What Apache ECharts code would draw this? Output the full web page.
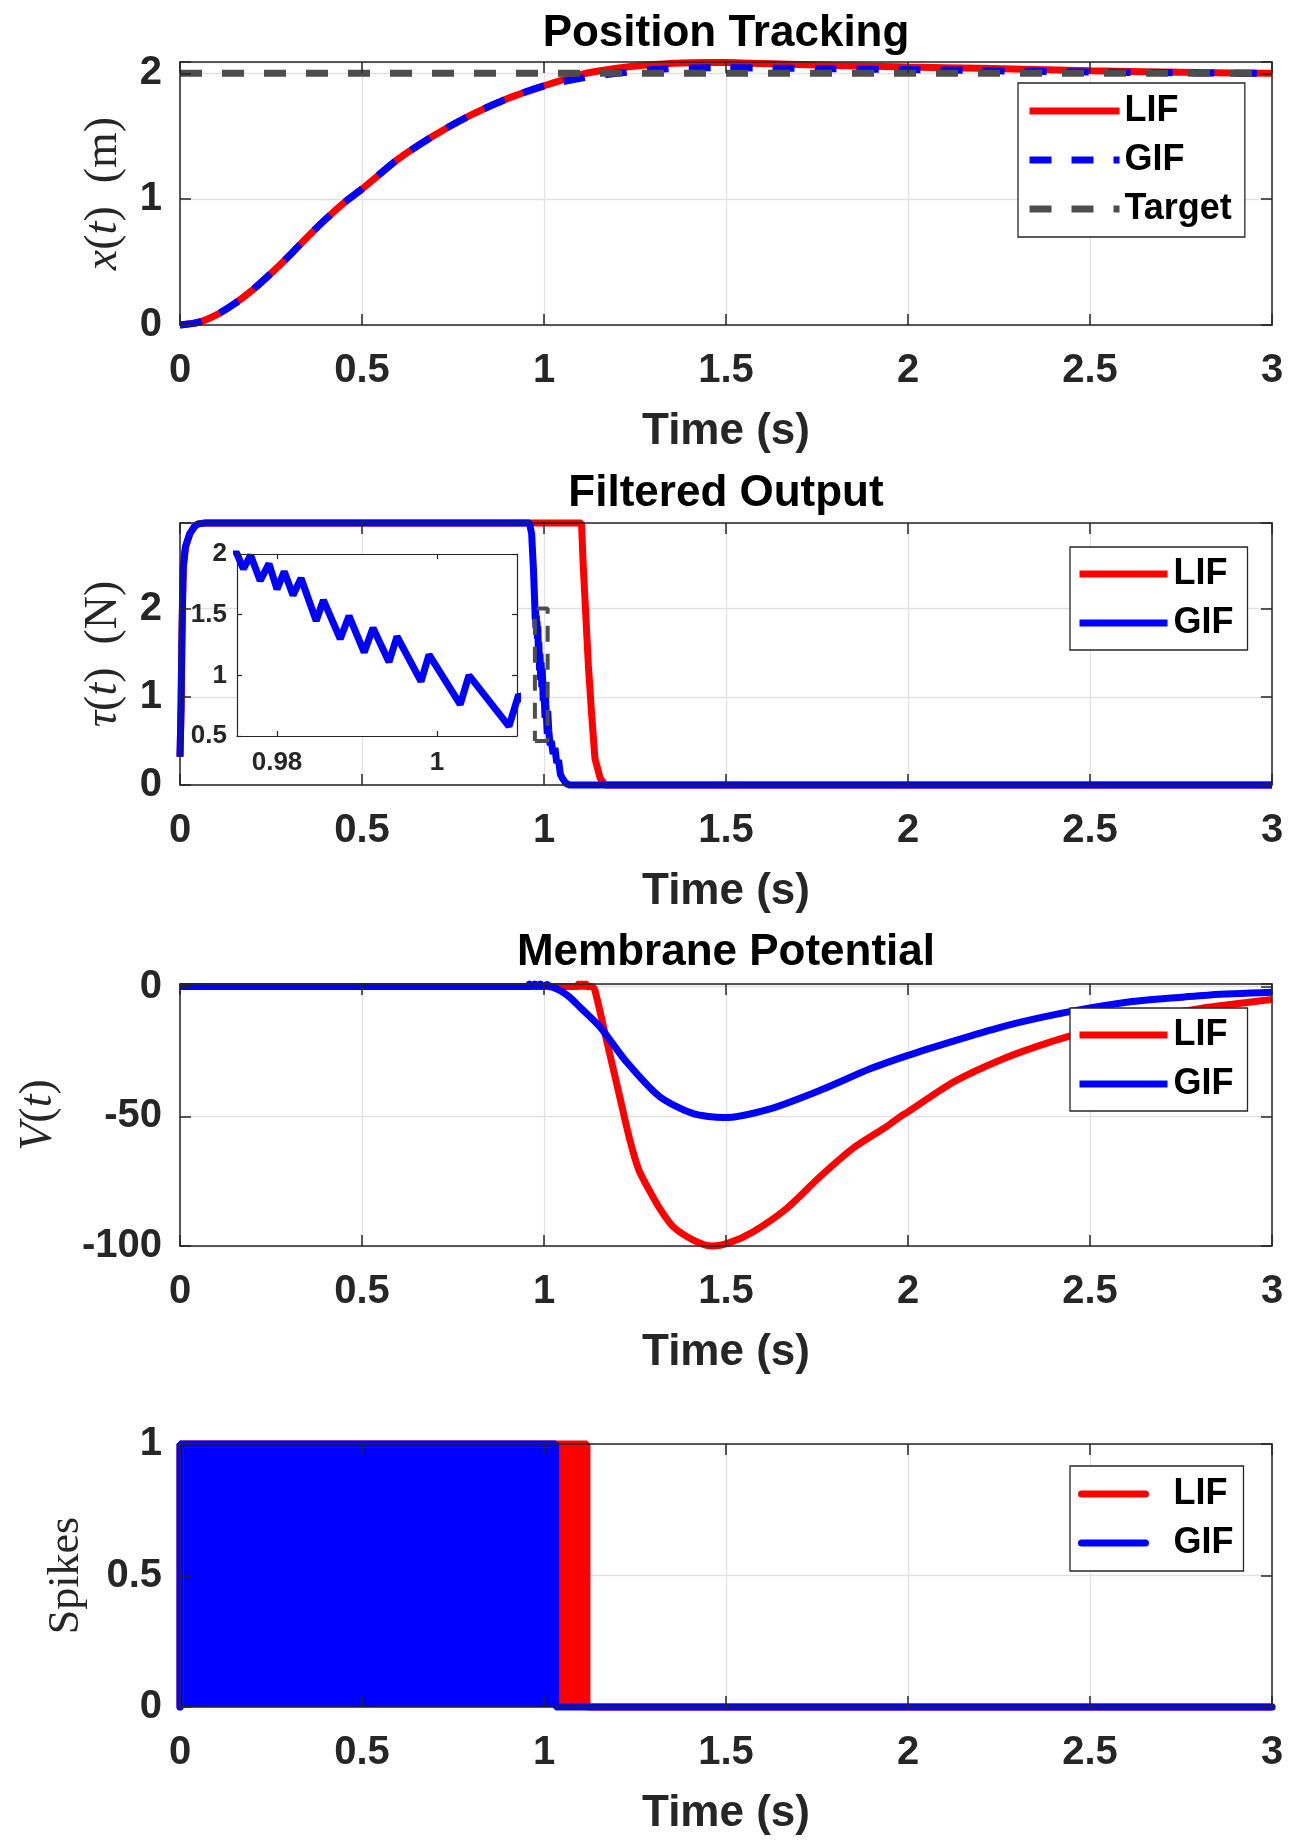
<!DOCTYPE html>
<html>
<head>
<meta charset="utf-8">
<title>LIF vs GIF</title>
<script src="https://cdn.jsdelivr.net/npm/echarts@6/dist/echarts.min.js"></script>
<style>
html, body { margin: 0; padding: 0; background: #fff; }
#chart { width: 1307px; height: 1843px; }
</style>
</head>
<body>
<div id="chart"></div>
<script>
// ---- data ----
// position tracking x(t)
var posT   = [0, 0.05, 0.1, 0.15, 0.2, 0.25, 0.3, 0.35, 0.4, 0.45, 0.5, 0.6, 0.7, 0.8, 0.9, 1.0, 1.1, 1.2, 1.3, 1.4, 1.5, 1.6, 1.8, 2.0, 2.2, 2.5, 2.8, 3.0];
var posLIF = [0, 0.02, 0.08, 0.17, 0.28, 0.41, 0.55, 0.70, 0.84, 0.97, 1.08, 1.32, 1.51, 1.67, 1.80, 1.90, 1.99, 2.04, 2.07, 2.085, 2.086, 2.078, 2.062, 2.05, 2.04, 2.02, 2.006, 2.0];
var posGIF = [0, 0.02, 0.08, 0.17, 0.28, 0.41, 0.55, 0.70, 0.84, 0.97, 1.08, 1.32, 1.51, 1.67, 1.80, 1.90, 1.96, 2.0, 2.03, 2.043, 2.045, 2.042, 2.036, 2.03, 2.022, 2.01, 2.003, 2.0];
var target = 2;

// filtered output tau(t)
var tauLifT = [0, 0.003, 0.005, 0.007, 0.009, 0.015, 0.027, 0.04, 0.05, 0.07, 1.103, 1.108, 1.115, 1.122, 1.131, 1.14, 1.154, 1.168, 3];
var tauLifV = [0.32, 0.9, 1.6, 2.09, 2.47, 2.7, 2.85, 2.93, 2.96, 2.97, 2.97, 2.47, 1.91, 1.35, 0.79, 0.3, 0.08, 0, 0];
var tauGifT = [0, 0.003, 0.005, 0.007, 0.009, 0.015, 0.027, 0.04, 0.05, 0.07, 0.96, 0.966, 0.971, 0.974, 0.975,
  0.9758, 0.9767, 0.9779, 0.979, 0.98, 0.9809, 0.982, 0.983, 0.9849, 0.9858, 0.9879, 0.989, 0.9909, 0.992, 0.994,
  0.995, 0.998, 0.999, 1.0029, 1.004, 1.009, 1.0102, 1.013, 1.017, 1.02, 1.025, 1.03, 1.035, 1.04, 1.045, 1.05, 1.06, 1.07, 3];
var tauGifV = [0.32, 0.9, 1.6, 2.09, 2.47, 2.7, 2.85, 2.93, 2.96, 2.97, 2.97, 2.85, 2.45, 2.12, 2.0,
  1.877, 1.99, 1.78, 1.92, 1.71, 1.855, 1.66, 1.80, 1.45, 1.62, 1.30, 1.49, 1.19, 1.39, 1.11,
  1.32, 0.95, 1.17, 0.76, 1.0, 0.58, 0.84, 0.62, 0.45, 0.5, 0.35, 0.42, 0.25, 0.28, 0.12, 0.08, 0.02, 0, 0];
// zoomed window shown in the inset
var insetT = [0.975, 1.01];
var insetV = [0.5, 2];
var insetTicks = [0.98, 1];

// membrane potential V(t)
var vLifT = [0, 1.09, 1.095, 1.10, 1.105, 1.11, 1.115, 1.12, 1.132, 1.14, 1.172, 1.204, 1.236, 1.26, 1.284, 1.32,
  1.355, 1.41, 1.461, 1.51, 1.575, 1.667, 1.758, 1.85, 1.941, 1.98, 2.0, 2.125, 2.262, 2.39, 2.5, 2.6, 2.8, 3.0];
var vLifV = [0, 0, 1, 0, 1, 0, 1, 0, 0, -1.5, -20.8, -40, -59.2, -70.5, -77.2, -86,
  -92.6, -97.7, -100, -98.7, -94.5, -85.5, -73.3, -62.2, -54, -50, -48.3, -36.8, -27.8, -21.4, -17, -13.5, -8.5, -5];
var vGifT = [0, 0.955, 0.96, 0.965, 0.975, 0.98, 0.99, 0.995, 1.01, 1.015, 1.025, 1.044, 1.07, 1.099, 1.154, 1.227,
  1.319, 1.41, 1.493, 1.621, 1.758, 1.896, 2.0, 2.125, 2.256, 2.37, 2.485, 2.6, 2.713, 2.83, 3.0];
var vGifV = [0, 0, 1, 0, 1, 0, 1, 0, 0.8, 0, -0.3, -1.5, -4, -8, -15.6, -29.1,
  -42.6, -49, -50.5, -47.1, -40, -31.7, -26.5, -21.0, -15.6, -11.8, -8.6, -6.0, -4.5, -3.2, -2.2];

// spikes: dense train between 0 and the end time, then silent
var spikeHigh = 1;
var lifSpikeEnd = 1.118;
var gifSpikeEnd = 1.032;
var tEnd = 3;

// ---- styling ----
var FONT = "'Liberation Sans', Arial, Helvetica, sans-serif";
var SERIF = "'Liberation Serif', 'Times New Roman', serif";
var INK = '#262626';
var GRIDC = '#e1e1e1';
var RED = '#ff0000', BLUE = '#0000ff', GRAY = '#4d4d4d';
var LW = 7;
var DASH = [22, 20];
var tickFont = { fontSize: 40, fontWeight: 'bold', color: INK, fontFamily: FONT };

function zip(t, v) {
  return t.map(function (x, i) { return [x, v[i]]; });
}
function spikeBlock(end) {
  return [[0, 0], [0, spikeHigh], [end, spikeHigh], [end, 0], [tEnd, 0]];
}

var grids = [
  { left: 180, top: 62, width: 1092, height: 263 },
  { left: 180, top: 523, width: 1092, height: 262 },
  { left: 180, top: 984, width: 1092, height: 262 },
  { left: 180, top: 1444, width: 1092, height: 263 },
  { left: 237, top: 554, width: 280, height: 182, show: true, backgroundColor: '#fff', borderWidth: 0, z: 3 }
];
grids.forEach(function (g) { g.containLabel = false; g.outerBoundsMode = 'none'; });

function frame(g, pos, min, max, interval, len, lw, custom) {
  var a = {
    gridIndex: g, type: 'value', position: pos, min: min, max: max, z: 10, silent: true,
    axisLine: { show: true, onZero: false, lineStyle: { color: INK, width: lw } },
    axisTick: { show: true, inside: true, length: len, lineStyle: { color: INK, width: lw } },
    axisLabel: { show: false },
    splitLine: { show: false }
  };
  if (interval) a.interval = interval;
  if (custom) a.axisTick.customValues = custom;
  return a;
}

var xAxes = [], yAxes = [];
function addPanel(g, y) {
  var idx = { x: xAxes.length, y: yAxes.length };
  xAxes.push({
    gridIndex: g, type: 'value', position: 'bottom', min: 0, max: tEnd, interval: 0.5, z: 0,
    axisLine: { show: false }, axisTick: { show: false },
    splitLine: { show: true, lineStyle: { color: GRIDC, width: 1.3 } },
    axisLabel: Object.assign({ margin: 26 }, tickFont),
    name: 'Time (s)', nameLocation: 'middle', nameGap: 85,
    nameTextStyle: { fontSize: 44, fontWeight: 'bold', color: INK, fontFamily: FONT, lineHeight: 44 }
  });
  xAxes.push(frame(g, 'bottom', 0, tEnd, 0.5, 11, 1.5));
  xAxes.push(frame(g, 'top', 0, tEnd, 0.5, 11, 1.5));
  var tok = { fontFamily: SERIF, fontSize: y.fs, lineHeight: 48, color: INK };
  yAxes.push({
    gridIndex: g, type: 'value', position: 'left', min: y.min, max: y.max, interval: y.interval, z: 0,
    axisLine: { show: false }, axisTick: { show: false },
    splitLine: { show: true, lineStyle: { color: GRIDC, width: 1.3 } },
    axisLabel: Object.assign({ margin: 18, showMaxLabel: y.showMax }, tickFont),
    name: y.name, nameLocation: 'middle', nameGap: y.gap, nameRotate: 90,
    nameTextStyle: {
      fontFamily: SERIF, fontSize: y.fs, color: INK,
      rich: { i: Object.assign({ fontStyle: 'italic' }, tok), r: tok }
    }
  });
  yAxes.push(frame(g, 'left', y.min, y.max, y.interval, 11, 1.5));
  yAxes.push(frame(g, 'right', y.min, y.max, y.interval, 11, 1.5));
  return idx;
}

var p1 = addPanel(0, { min: 0, max: 2.09, interval: 1, showMax: false, gap: 52, fs: 46, name: '{i|x}{r|(}{i|t}{r|)\u2002(m)}' });
var p2 = addPanel(1, { min: 0, max: 2.97, interval: 1, showMax: false, gap: 52, fs: 46, name: '{i|τ}{r|(}{i|t}{r|)\u2002(N)}' });
var p3 = addPanel(2, { min: -100, max: 1, interval: 50, showMax: false, gap: 117, fs: 46, name: '{i|V}{r|(}{i|t}{r|)}' });
var p4 = addPanel(3, { min: 0, max: 1, interval: 0.5, showMax: true, gap: 90, fs: 44, name: '{r|Spikes}' });

// inset axes
var insetFont = { fontSize: 26, fontWeight: 'bold', color: INK, fontFamily: FONT };
var pin = { x: xAxes.length, y: yAxes.length };
xAxes.push({
  gridIndex: 4, type: 'value', position: 'bottom', min: insetT[0], max: insetT[1], z: 10,
  axisLine: { show: true, onZero: false, lineStyle: { color: INK, width: 1.2 } },
  axisTick: { show: true, inside: true, length: 5, customValues: insetTicks, lineStyle: { color: INK, width: 1.2 } },
  axisLabel: Object.assign({ show: true, customValues: insetTicks, margin: 14 }, insetFont),
  splitLine: { show: false }
});
xAxes.push(frame(4, 'top', insetT[0], insetT[1], null, 5, 1.2, insetTicks));
yAxes.push({
  gridIndex: 4, type: 'value', position: 'left', min: insetV[0], max: insetV[1], interval: 0.5, z: 10,
  axisLine: { show: true, onZero: false, lineStyle: { color: INK, width: 1.2 } },
  axisTick: { show: true, inside: true, length: 5, lineStyle: { color: INK, width: 1.2 } },
  axisLabel: Object.assign({ show: true, margin: 10 }, insetFont),
  splitLine: { show: false }
});
yAxes.push(frame(4, 'right', insetV[0], insetV[1], 0.5, 5, 1.2));

function line(name, p, data, color, extra) {
  var s = {
    name: name, type: 'line', xAxisIndex: p.x, yAxisIndex: p.y, data: data,
    symbol: 'none', showSymbol: false, silent: true, z: 2, clip: false,
    lineStyle: { color: color, width: LW }, itemStyle: { color: color }
  };
  return Object.assign(s, extra || {});
}
var smooth = { smooth: 0.25 };

var series = [
  line('LIF@0', p1, zip(posT, posLIF), RED, smooth),
  line('GIF@0', p1, zip(posT, posGIF), BLUE, Object.assign({ lineStyle: { color: BLUE, width: LW, type: DASH } }, smooth)),
  line('Target@0', p1, [[0, target], [tEnd, target]], GRAY, { lineStyle: { color: GRAY, width: LW, type: DASH } }),

  line('LIF@1', p2, zip(tauLifT, tauLifV), RED),
  line('GIF@1', p2, zip(tauGifT, tauGifV), BLUE),
  line('zoom@1', p2, [[insetT[0], insetV[0]], [insetT[1], insetV[0]], [insetT[1], insetV[1]], [insetT[0], insetV[1]], [insetT[0], insetV[0]]],
    GRAY, { z: 3, lineStyle: { color: GRAY, width: 4, type: [16, 12] } }),
  line('inset@1', pin, zip(tauGifT, tauGifV), BLUE, { z: 5, clip: true }),

  line('LIF@2', p3, zip(vLifT, vLifV), RED, smooth),
  line('GIF@2', p3, zip(vGifT, vGifV), BLUE, smooth),

  line('LIF@3', p4, spikeBlock(lifSpikeEnd), RED, { lineStyle: { color: RED, width: LW, cap: 'round' }, areaStyle: { color: RED, opacity: 1 } }),
  line('GIF@3', p4, spikeBlock(gifSpikeEnd), BLUE, { lineStyle: { color: BLUE, width: LW, cap: 'round' }, areaStyle: { color: BLUE, opacity: 1 } })
];

function legendBox(names, left, top, pad, itemWidth, textPad) {
  return {
    data: names, orient: 'vertical', left: left, top: top, padding: pad,
    itemWidth: itemWidth, itemHeight: 20, itemGap: 9, selectedMode: false,
    backgroundColor: '#fff', borderColor: INK, borderWidth: 1.3, borderRadius: 0,
    itemStyle: { opacity: 0 },
    lineStyle: { width: LW },
    formatter: function (n) { return n.split('@')[0]; },
    textStyle: { fontSize: 36, fontWeight: 'bold', color: '#000', fontFamily: FONT, lineHeight: 40, padding: [0, 0, 0, textPad] }
  };
}

var titleStyle = { fontSize: 44, fontWeight: 'bold', color: '#000', fontFamily: FONT, lineHeight: 44 };
var option = {
  animation: false,
  textStyle: { fontFamily: FONT },
  title: [
    { text: 'Position Tracking', left: 726, top: 12, textAlign: 'center', padding: 0, textStyle: titleStyle },
    { text: 'Filtered Output', left: 726, top: 472, textAlign: 'center', padding: 0, textStyle: titleStyle },
    { text: 'Membrane Potential', left: 726, top: 931, textAlign: 'center', padding: 0, textStyle: titleStyle }
  ],
  grid: grids,
  xAxis: xAxes,
  yAxis: yAxes,
  legend: [
    legendBox(['LIF@0', 'GIF@0', 'Target@0'], 1018, 83, [8, 13, 8, 8], 90, 0),
    legendBox(['LIF@1', 'GIF@1'], 1070, 547, [7, 14, 7, 6], 88, 1),
    legendBox(['LIF@2', 'GIF@2'], 1070, 1008, [7, 14, 7, 6], 88, 1),
    legendBox(['LIF@3', 'GIF@3'], 1070, 1466, [8, 10, 8, 8], 64, 23)
  ],
  series: series
};

var chart = echarts.init(document.getElementById('chart'), null, { renderer: 'canvas' });
chart.setOption(option);
</script>
</body>
</html>
